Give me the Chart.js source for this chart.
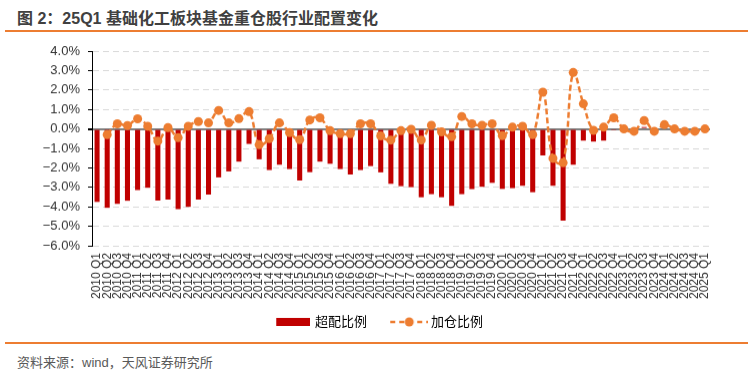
<!DOCTYPE html>
<html>
<head>
<meta charset="utf-8">
<script src="https://cdn.jsdelivr.net/npm/chart.js@4/dist/chart.umd.min.js"></script>
<style>
  body { margin: 0; background: #fff; font-family: "Liberation Sans", "Noto Sans CJK SC", sans-serif; }
  #wrap { position: relative; width: 755px; height: 372px; overflow: hidden; }
  #title { position: absolute; left: 17px; top: 5px; font-size: 16px; font-weight: bold; color: #404040; white-space: nowrap; }
  .rule { position: absolute; left: 5px; width: 743px; height: 2px; background: #ED7D31; }
  #source { position: absolute; left: 17px; top: 352px; font-size: 13px; color: #595959; white-space: nowrap; }
  #box { position: absolute; left: 0; top: 35px; width: 755px; height: 302.5px; }
</style>
</head>
<body>
<div id="wrap">
  <div id="title">图 2：25Q1 基础化工板块基金重仓股行业配置变化</div>
  <div class="rule" style="top:30px"></div>
  <div id="box"><canvas id="chart"></canvas></div>
  <div class="rule" style="top:342px"></div>
  <div id="source">资料来源：wind，天风证券研究所</div>
</div>
<script>
// quarters 2010Q1 .. 2025Q1
const labels = [];
for (let y = 2010; y <= 2025; y++) {
  for (let q = 1; q <= 4; q++) {
    if (y === 2025 && q > 1) break;
    labels.push(y + ' Q' + q);
  }
}

// 超配比例 (%)
const overweight = [
  -3.75, -4.05, -3.85, -3.69, -3.14, -3.02, -3.68, -3.63,
  -4.12, -4.00, -3.63, -3.37, -2.49, -2.18, -1.68, -0.77,
  -1.56, -2.11, -1.84, -2.06, -2.65, -2.22, -1.68, -1.79,
  -2.06, -2.34, -2.11, -1.91, -2.23, -2.82, -2.94, -2.99,
  -3.51, -3.35, -3.51, -3.95, -3.35, -3.09, -2.97, -2.77,
  -3.08, -3.04, -2.92, -3.25, -1.36, -2.92, -4.71, -1.84,
  -0.60, -0.65, -0.60, -0.07, 0.00, 0.00, 0.10, 0.00,
  0.00, 0.00, 0.00, 0.00, 0.00
];

// 加仓比例 (%), no value for the first quarter
const addPosition = [
  null, -0.29, 0.26, 0.17, 0.52, 0.14, -0.62, 0.07,
  -0.45, 0.14, 0.38, 0.31, 0.95, 0.31, 0.53, 0.89,
  -0.81, -0.50, 0.31, -0.19, -0.55, 0.46, 0.57, -0.09,
  -0.24, -0.24, 0.26, 0.26, -0.36, -0.57, -0.09, -0.02,
  -0.57, 0.19, -0.15, -0.40, 0.64, 0.26, 0.19, 0.26,
  -0.34, 0.09, 0.14, -0.29, 1.89, -1.51, -1.74, 2.90,
  1.29, -0.07, 0.09, 0.57, 0.00, -0.12, 0.43, -0.12,
  0.22, 0.00, -0.12, -0.12, 0.00
];

const orange = '#ED7D31';
const red = '#C00000';

// legend symbols (transparent space on the left gives the gap between items)
function barSymbol() {
  const c = document.createElement('canvas');
  c.width = 49; c.height = 8;
  const g = c.getContext('2d');
  g.fillStyle = red;
  g.fillRect(15, 0, 34, 8);
  return c;
}
function lineSymbol() {
  const c = document.createElement('canvas');
  c.width = 53; c.height = 10;
  const g = c.getContext('2d');
  g.strokeStyle = orange;
  g.lineWidth = 2.5;
  g.setLineDash([5, 4]);
  g.beginPath();
  g.moveTo(15, 5); g.lineTo(53, 5);
  g.stroke();
  g.fillStyle = orange;
  g.beginPath();
  g.arc(34, 5, 4.5, 0, Math.PI * 2);
  g.fill();
  return c;
}
const symbols = [barSymbol(), lineSymbol()];

const font = "'Liberation Sans', 'Noto Sans CJK SC', sans-serif";

new Chart(document.getElementById('chart'), {
  data: {
    labels,
    datasets: [
      {
        type: 'bar',
        label: '超配比例',
        data: overweight,
        backgroundColor: red,
        barPercentage: 0.5,
        categoryPercentage: 1,
        order: 1
      },
      {
        type: 'line',
        label: '加仓比例',
        data: addPosition,
        borderColor: orange,
        backgroundColor: orange,
        borderWidth: 2.5,
        borderDash: [6, 3],
        tension: 0.4,
        pointRadius: 4.5,
        pointBorderWidth: 0,
        pointBackgroundColor: orange,
        order: 0
      }
    ]
  },
  options: {
    responsive: true,
    maintainAspectRatio: false,
    animation: false,
    layout: { padding: { top: 16, right: 45, left: 36, bottom: 0 } },
    plugins: {
      tooltip: { enabled: false },
      legend: {
        position: 'bottom',
        labels: {
          color: '#333',
          font: { family: font, size: 13 },
          padding: 12,
          usePointStyle: true,
          pointStyleWidth: 45.5,
          generateLabels: chart => chart.data.datasets.map((ds, i) => ({
            text: ds.label,
            pointStyle: symbols[i],
            datasetIndex: i,
            hidden: false,
            lineWidth: 0
          }))
        }
      }
    },
    scales: {
      x: {
        grid: { display: false, drawTicks: false },
        border: { display: false },
        ticks: {
          color: '#333',
          font: { family: font, size: 12 },
          minRotation: 90,
          maxRotation: 90,
          autoSkip: false,
          padding: 7
        },
        afterFit: s => { s.height = 57.5; }
      },
      y: {
        min: -6,
        max: 4,
        ticks: {
          stepSize: 1,
          color: '#333',
          font: { family: font, size: 13 },
          padding: 8,
          callback: v => (v < 0 ? '−' + Math.abs(v).toFixed(1) : v.toFixed(1)) + '%'
        },
        grid: {
          color: c => (c.tick && c.tick.value === 0) ? '#808080' : '#D9D9D9',
          lineWidth: c => (c.tick && c.tick.value === 0) ? 2 : 1,
          tickColor: '#000',
          tickLength: 4
        },
        border: {
          display: true,
          color: '#000',
          width: 1,
          dash: c => (c.tick && c.tick.value === 0) ? [] : [6, 4]
        },
        afterFit: s => { s.width = 56; }
      }
    }
  }
});
</script>
</body>
</html>
